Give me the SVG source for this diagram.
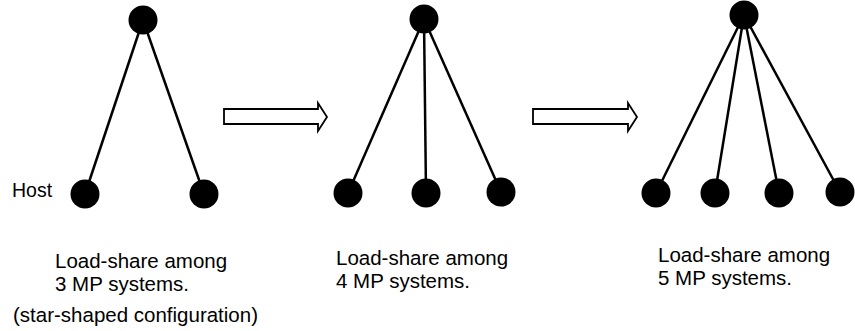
<svg xmlns="http://www.w3.org/2000/svg" width="855" height="331" viewBox="0 0 855 331">
<style>
.node{fill:#000}
.edge{stroke:#000;stroke-width:2.5;fill:none}
.arrow{fill:#fff;stroke:#000;stroke-width:1.8;stroke-linejoin:miter}
text{font-family:"Liberation Sans",Arial,sans-serif;font-size:20.5px;fill:#000}
</style>
<rect width="855" height="331" fill="#fff"/>
<g id="connectors">
<line class="edge" x1="143" y1="20" x2="85" y2="194"/>
<line class="edge" x1="143" y1="20" x2="204" y2="194"/>
<line class="edge" x1="424" y1="19" x2="348" y2="193"/>
<line class="edge" x1="424" y1="19" x2="426" y2="193"/>
<line class="edge" x1="424" y1="19" x2="501" y2="192"/>
<line class="edge" x1="744" y1="15" x2="656" y2="193"/>
<line class="edge" x1="744" y1="15" x2="715" y2="193"/>
<line class="edge" x1="744" y1="15" x2="779" y2="193"/>
<line class="edge" x1="744" y1="15" x2="840" y2="192"/>
<path class="arrow" d="M224,109 H318 V103 L327,117 L318,131 V124 H224 Z"/>
<path class="arrow" d="M533,109 H628 V103 L637,117 L628,131 V124 H533 Z"/>
</g>
<g id="c1-top"><circle class="node" cx="143" cy="20" r="14.5"/></g>
<g id="c1-host"><circle class="node" cx="85" cy="194" r="14.5"/><text x="12" y="197" style="font-size:19.5px">Host</text></g>
<g id="c1-b2"><circle class="node" cx="204" cy="194" r="14.5"/></g>
<g id="c2-top"><circle class="node" cx="424" cy="19" r="14.5"/></g>
<g id="c2-b1"><circle class="node" cx="348" cy="193" r="14.5"/></g>
<g id="c2-b2"><circle class="node" cx="426" cy="193" r="14.5"/></g>
<g id="c2-b3"><circle class="node" cx="501" cy="192" r="14.5"/></g>
<g id="c3-top"><circle class="node" cx="744" cy="15" r="14.5"/></g>
<g id="c3-b1"><circle class="node" cx="656" cy="193" r="14.5"/></g>
<g id="c3-b2"><circle class="node" cx="715" cy="193" r="14.5"/></g>
<g id="c3-b3"><circle class="node" cx="779" cy="193" r="14.5"/></g>
<g id="c3-b4"><circle class="node" cx="840" cy="192" r="14.5"/></g>
<g id="label1">
<text x="55" y="268">Load-share among</text>
<text x="55" y="291">3 MP systems.</text>
<text x="13" y="322">(star-shaped configuration)</text>
</g>
<g id="label2">
<text x="336" y="265">Load-share among</text>
<text x="336" y="288">4 MP systems.</text>
</g>
<g id="label3">
<text x="658" y="262">Load-share among</text>
<text x="658" y="285">5 MP systems.</text>
</g>
</svg>
